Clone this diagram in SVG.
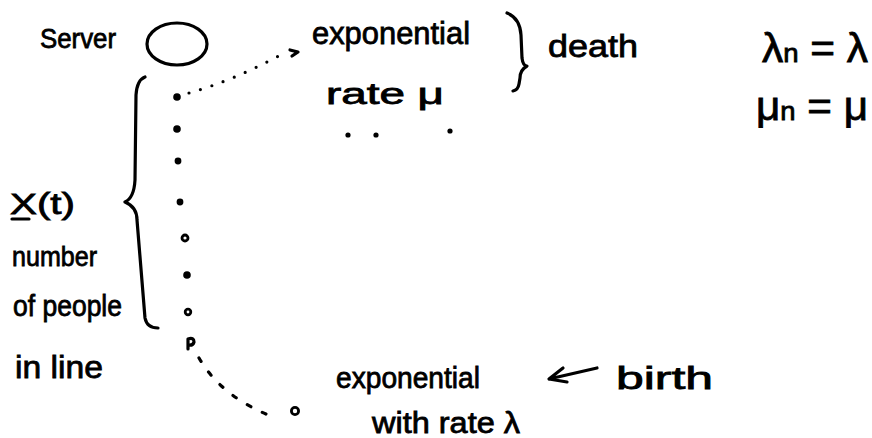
<svg xmlns="http://www.w3.org/2000/svg" width="872" height="438" viewBox="0 0 872 438">
<style>
text{font-family:"Liberation Sans","DejaVu Sans",sans-serif;fill:#000;stroke:#000;stroke-width:0.8}
.ink{fill:none;stroke:#000;stroke-width:3.2;stroke-linecap:round;stroke-linejoin:round}
.dot{fill:#000}
.ring{fill:#fff;stroke:#000;stroke-width:2.8}
</style>
<rect width="872" height="438" fill="#fff"/>

<g id="server">
  <text x="40" y="48" font-size="28" textLength="76" lengthAdjust="spacingAndGlyphs">Server</text>
  <ellipse class="ink" cx="177" cy="44" rx="30" ry="21"/>
</g>

<g id="queue">
  <circle class="dot" cx="177" cy="97" r="3.8"/>
  <circle class="dot" cx="177" cy="129" r="3.8"/>
  <circle class="dot" cx="178" cy="161" r="3.4"/>
  <circle class="dot" cx="180" cy="202" r="3.4"/>
  <circle class="ring" cx="185" cy="238" r="3"/>
  <circle class="dot" cx="187" cy="275" r="3.8"/>
  <circle class="ring" cx="188" cy="312" r="2.8"/>
  <path class="ink" stroke-width="2.8" d="M188,349 L188,339 Q194,337 194,342 Q193,346 188,345"/>
  <circle class="ring" cx="295" cy="411" r="3.6"/>
</g>

<g id="connectors">
  <path class="ink" stroke-width="3.6" stroke-dasharray="0 12" d="M189,93 Q235,80 284,53"/>
  <path class="ink" stroke-width="2.8" d="M290,50 L298,52 L292,56"/>
  <path class="ink" stroke-dasharray="4 13" d="M199,358 Q222,398 276,418"/>
  <g id="birth-arrow">
    <path class="ink" d="M597,368 L549,379 M563,368 L549,379 L567,382"/>
  </g>
</g>

<g id="braces">
  <path class="ink" d="M145,77 Q137,80 136,95 L135,180 Q134,198 125,202 Q137,207 137,220 L145,318 Q147,328 158,328"/>
  <path class="ink" d="M507,13 Q520,18 521,35 L522,58 Q523,66 527,66 Q520,70 520,78 L519,84 Q518,90 513,91"/>
</g>

<g id="death-label">
  <text x="312" y="44" font-size="32" textLength="158" lengthAdjust="spacingAndGlyphs">exponential</text>
  <text x="326" y="104" font-size="30" textLength="118" lengthAdjust="spacingAndGlyphs">rate μ</text>
  <circle class="dot" cx="348" cy="135" r="2.6"/>
  <circle class="dot" cx="376" cy="135" r="2.6"/>
  <circle class="dot" cx="450" cy="131" r="2.6"/>
  <text x="548" y="57" font-size="32" textLength="90" lengthAdjust="spacingAndGlyphs">death</text>
</g>

<g id="rates">
  <text x="762" y="62" font-size="40" textLength="106" lengthAdjust="spacingAndGlyphs">λ<tspan font-size="26">n</tspan> = λ</text>
  <text x="756" y="120" font-size="40" textLength="112" lengthAdjust="spacingAndGlyphs">μ<tspan font-size="26">n</tspan> = μ</text>
</g>

<g id="queue-label">
  <text x="10" y="214" font-size="30" textLength="65" lengthAdjust="spacingAndGlyphs">X(t)</text>
  <line class="ink" stroke-width="2.8" x1="12" y1="219" x2="29" y2="219"/>
  <text x="12" y="266" font-size="28" textLength="85" lengthAdjust="spacingAndGlyphs">number</text>
  <text x="13" y="316" font-size="30" textLength="109" lengthAdjust="spacingAndGlyphs">of people</text>
  <text x="15" y="378" font-size="32" textLength="88" lengthAdjust="spacingAndGlyphs">in line</text>
</g>

<g id="birth-label">
  <text x="336" y="388" font-size="30" textLength="144" lengthAdjust="spacingAndGlyphs">exponential</text>
  <text x="372" y="433" font-size="30" textLength="148" lengthAdjust="spacingAndGlyphs">with rate λ</text>
  <text x="616" y="389" font-size="32" textLength="97" lengthAdjust="spacingAndGlyphs">birth</text>
</g>
</svg>
